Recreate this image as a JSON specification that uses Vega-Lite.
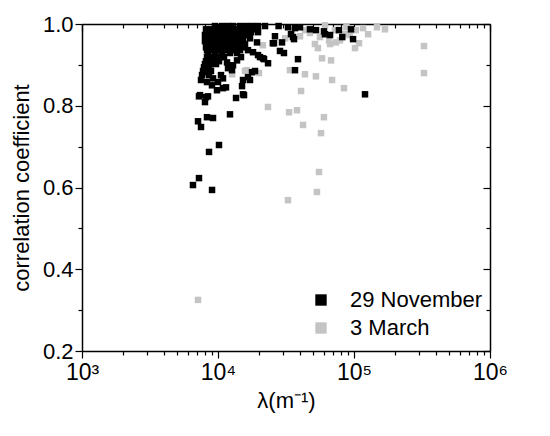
{
  "$schema": "https://vega.github.io/schema/vega-lite/v6.json",
  "width": 408,
  "height": 327,
  "autosize": {"type": "none"},
  "padding": {"left": 82, "top": 24, "right": 60, "bottom": 85},
  "background": "white",
  "config": {"view": {"stroke": null}, "font": "Liberation Sans"},
  "data": {"values": [
    {"s":"3 March","x":7130,"y":0.325},{"s":"3 March","x":55300,"y":0.638},{"s":"3 March","x":53400,"y":0.589},{"s":"3 March","x":32700,"y":0.569},
    {"s":"3 March","x":23300,"y":0.797},{"s":"3 March","x":33300,"y":0.784},{"s":"3 March","x":38100,"y":0.789},{"s":"3 March","x":42200,"y":0.753},
    {"s":"3 March","x":57200,"y":0.733},{"s":"3 March","x":60100,"y":0.772},{"s":"3 March","x":40800,"y":0.836},{"s":"3 March","x":84400,"y":0.843},
    {"s":"3 March","x":69000,"y":0.863},{"s":"3 March","x":52500,"y":0.872},{"s":"3 March","x":43600,"y":0.877},{"s":"3 March","x":33800,"y":0.887},
    {"s":"3 March","x":15800,"y":0.885},{"s":"3 March","x":20000,"y":0.880},{"s":"3 March","x":12700,"y":0.877},{"s":"3 March","x":58200,"y":0.916},
    {"s":"3 March","x":67800,"y":0.911},{"s":"3 March","x":51600,"y":0.951},{"s":"3 March","x":73800,"y":0.955},{"s":"3 March","x":101700,"y":0.941},
    {"s":"3 March","x":108900,"y":0.953},{"s":"3 March","x":21400,"y":0.948},{"s":"3 March","x":116500,"y":0.990},{"s":"3 March","x":147600,"y":0.992},
    {"s":"3 March","x":169000,"y":0.987},{"s":"3 March","x":327000,"y":0.946},{"s":"3 March","x":327000,"y":0.880},{"s":"3 March","x":61200,"y":0.997},
    {"s":"3 March","x":88000,"y":0.992},{"s":"3 March","x":72500,"y":0.985},{"s":"3 March","x":86000,"y":0.975},{"s":"3 March","x":56200,"y":0.968},
    {"s":"3 March","x":65500,"y":0.960},{"s":"3 March","x":47500,"y":0.978},{"s":"3 March","x":40100,"y":0.970},{"s":"3 March","x":43600,"y":0.985},
    {"s":"3 March","x":93000,"y":0.973},{"s":"3 March","x":79000,"y":0.960},{"s":"3 March","x":35000,"y":0.985},{"s":"3 March","x":31200,"y":0.965},
    {"s":"3 March","x":103000,"y":0.985},{"s":"3 March","x":127000,"y":0.975},{"s":"3 March","x":66700,"y":0.951},{"s":"3 March","x":54300,"y":0.941},
    {"s":"3 March","x":16300,"y":0.887},

    {"s":"29 November","x":9500,"y":0.995},{"s":"29 November","x":10700,"y":0.995},{"s":"29 November","x":11850,"y":0.995},{"s":"29 November","x":12890,"y":0.995},
    {"s":"29 November","x":14520,"y":0.995},{"s":"29 November","x":16070,"y":0.995},{"s":"29 November","x":17790,"y":0.995},{"s":"29 November","x":19690,"y":0.995},{"s":"29 November","x":22170,"y":0.995},
    {"s":"29 November","x":8160,"y":0.987},{"s":"29 November","x":8880,"y":0.987},{"s":"29 November","x":10000,"y":0.987},{"s":"29 November","x":11070,"y":0.987},
    {"s":"29 November","x":12250,"y":0.987},{"s":"29 November","x":13570,"y":0.987},{"s":"29 November","x":15020,"y":0.987},{"s":"29 November","x":16910,"y":0.987},{"s":"29 November","x":18710,"y":0.987},
    {"s":"29 November","x":8300,"y":0.980},{"s":"29 November","x":9190,"y":0.980},{"s":"29 November","x":10170,"y":0.980},{"s":"29 November","x":11450,"y":0.980},
    {"s":"29 November","x":12680,"y":0.980},{"s":"29 November","x":14030,"y":0.980},{"s":"29 November","x":15800,"y":0.980},{"s":"29 November","x":17490,"y":0.980},{"s":"29 November","x":19690,"y":0.980},
    {"s":"29 November","x":8020,"y":0.973},{"s":"29 November","x":8730,"y":0.973},{"s":"29 November","x":9670,"y":0.973},{"s":"29 November","x":10700,"y":0.973},
    {"s":"29 November","x":12050,"y":0.973},{"s":"29 November","x":13340,"y":0.973},{"s":"29 November","x":14760,"y":0.973},{"s":"29 November","x":16340,"y":0.973},
    {"s":"29 November","x":8160,"y":0.965},{"s":"29 November","x":9030,"y":0.965},{"s":"29 November","x":10000,"y":0.965},{"s":"29 November","x":11260,"y":0.965},
    {"s":"29 November","x":12460,"y":0.965},{"s":"29 November","x":13800,"y":0.965},{"s":"29 November","x":15270,"y":0.965},{"s":"29 November","x":17190,"y":0.965},
    {"s":"29 November","x":8020,"y":0.958},{"s":"29 November","x":8880,"y":0.958},{"s":"29 November","x":9830,"y":0.958},{"s":"29 November","x":10880,"y":0.958},
    {"s":"29 November","x":12050,"y":0.958},{"s":"29 November","x":13570,"y":0.958},{"s":"29 November","x":15020,"y":0.958},
    {"s":"29 November","x":8300,"y":0.951},{"s":"29 November","x":9190,"y":0.951},{"s":"29 November","x":10170,"y":0.951},{"s":"29 November","x":11450,"y":0.951},
    {"s":"29 November","x":12680,"y":0.951},{"s":"29 November","x":14030,"y":0.951},{"s":"29 November","x":15800,"y":0.951},
    {"s":"29 November","x":8160,"y":0.943},{"s":"29 November","x":9030,"y":0.943},{"s":"29 November","x":10000,"y":0.943},{"s":"29 November","x":11070,"y":0.943},
    {"s":"29 November","x":12250,"y":0.943},{"s":"29 November","x":13570,"y":0.943},{"s":"29 November","x":15530,"y":0.943},
    {"s":"29 November","x":8300,"y":0.936},{"s":"29 November","x":9340,"y":0.936},{"s":"29 November","x":10520,"y":0.936},{"s":"29 November","x":11650,"y":0.936},
    {"s":"29 November","x":13110,"y":0.936},{"s":"29 November","x":14520,"y":0.936},
    {"s":"29 November","x":8440,"y":0.929},{"s":"29 November","x":9500,"y":0.929},{"s":"29 November","x":10700,"y":0.929},{"s":"29 November","x":12250,"y":0.929},{"s":"29 November","x":13800,"y":0.929},
    {"s":"29 November","x":8300,"y":0.919},{"s":"29 November","x":9190,"y":0.919},{"s":"29 November","x":10340,"y":0.919},
    {"s":"29 November","x":8160,"y":0.909},{"s":"29 November","x":9030,"y":0.909},
    {"s":"29 November","x":8020,"y":0.902},{"s":"29 November","x":8730,"y":0.902},{"s":"29 November","x":9670,"y":0.902},
    {"s":"29 November","x":7890,"y":0.894},{"s":"29 November","x":8590,"y":0.894},
    {"s":"29 November","x":7760,"y":0.885},{"s":"29 November","x":8880,"y":0.885},
    {"s":"29 November","x":7630,"y":0.875},{"s":"29 November","x":8590,"y":0.875},
    {"s":"29 November","x":16340,"y":0.985},{"s":"29 November","x":19360,"y":0.955},{"s":"29 November","x":16620,"y":0.936},{"s":"29 November","x":18090,"y":0.931},
    {"s":"29 November","x":19690,"y":0.924},{"s":"29 November","x":21430,"y":0.916},{"s":"29 November","x":23330,"y":0.904},{"s":"29 November","x":25300,"y":0.953},
    {"s":"29 November","x":27900,"y":0.995},{"s":"29 November","x":32700,"y":0.992},{"s":"29 November","x":36830,"y":0.990},{"s":"29 November","x":35600,"y":0.968},
    {"s":"29 November","x":17790,"y":0.882},{"s":"29 November","x":16620,"y":0.870},
    {"s":"29 November","x":8020,"y":0.892},{"s":"29 November","x":8440,"y":0.882},{"s":"29 November","x":7500,"y":0.863},{"s":"29 November","x":8300,"y":0.858},
    {"s":"29 November","x":9190,"y":0.867},{"s":"29 November","x":9030,"y":0.850},{"s":"29 November","x":9830,"y":0.838},{"s":"29 November","x":10880,"y":0.843},
    {"s":"29 November","x":11450,"y":0.845},{"s":"29 November","x":7375,"y":0.826},{"s":"29 November","x":8160,"y":0.821},{"s":"29 November","x":8020,"y":0.809},
    {"s":"29 November","x":15020,"y":0.848},{"s":"29 November","x":15270,"y":0.828},{"s":"29 November","x":13570,"y":0.819},{"s":"29 November","x":12250,"y":0.779},
    {"s":"29 November","x":7130,"y":0.762},{"s":"29 November","x":8300,"y":0.772},{"s":"29 November","x":9190,"y":0.770},{"s":"29 November","x":11850,"y":0.892},
    {"s":"29 November","x":12680,"y":0.887},{"s":"29 November","x":15270,"y":0.863},{"s":"29 November","x":10880,"y":0.867},
    {"s":"29 November","x":6546,"y":0.606},{"s":"29 November","x":7247,"y":0.623},{"s":"29 November","x":9040,"y":0.594},{"s":"29 November","x":8590,"y":0.687},
    {"s":"29 November","x":10170,"y":0.704},{"s":"29 November","x":7500,"y":0.748},{"s":"29 November","x":7247,"y":0.823},{"s":"29 November","x":8440,"y":0.823},
    {"s":"29 November","x":15530,"y":0.826},{"s":"29 November","x":17190,"y":0.863},{"s":"29 November","x":18710,"y":0.885},{"s":"29 November","x":120500,"y":0.828},
    {"s":"29 November","x":36830,"y":0.887},{"s":"29 November","x":38740,"y":0.914},{"s":"29 November","x":28560,"y":0.934},{"s":"29 November","x":30550,"y":0.929},
    {"s":"29 November","x":21800,"y":0.914},{"s":"29 November","x":20370,"y":0.919},{"s":"29 November","x":25800,"y":0.953},{"s":"29 November","x":29560,"y":0.955},
    {"s":"29 November","x":26240,"y":0.970},{"s":"29 November","x":34410,"y":0.975},{"s":"29 November","x":36220,"y":0.963},{"s":"29 November","x":40080,"y":0.992},
    {"s":"29 November","x":47460,"y":0.987},{"s":"29 November","x":52550,"y":0.985},{"s":"29 November","x":60140,"y":0.982},{"s":"29 November","x":66670,"y":0.973},
    {"s":"29 November","x":82000,"y":0.968},{"s":"29 November","x":77500,"y":0.985},{"s":"29 November","x":95030,"y":0.987},{"s":"29 November","x":98390,"y":0.963},
    {"s":"29 November","x":61180,"y":0.975},{"s":"29 November","x":10520,"y":0.875},{"s":"29 November","x":10170,"y":0.909},{"s":"29 November","x":11070,"y":0.919},
    {"s":"29 November","x":10000,"y":0.858},{"s":"29 November","x":11650,"y":0.906},{"s":"29 November","x":10700,"y":0.924},{"s":"29 November","x":9830,"y":0.914},
    {"s":"29 November","x":12890,"y":0.899},{"s":"29 November","x":13800,"y":0.911},{"s":"29 November","x":14760,"y":0.919}
  ]},
  "layer": [
    {
      "mark": {"type": "point", "shape": "square", "filled": true, "size": 42, "opacity": 1},
      "encoding": {
        "x": {"field": "x", "type": "quantitative",
          "scale": {"type": "log", "domain": [1000, 1000000]},
          "axis": {"orient": "bottom",
            "values": [1000,2000,3000,4000,5000,6000,7000,8000,9000,10000,20000,30000,40000,50000,60000,70000,80000,90000,100000,200000,300000,400000,500000,600000,700000,800000,900000,1000000],
            "labelExpr": "datum.value==1000?'10³':datum.value==10000?'10⁴':datum.value==100000?'10⁵':datum.value==1000000?'10⁶':''",
            "tickSize": {"condition": {"test": "datum.value==1000||datum.value==10000||datum.value==100000||datum.value==1000000", "value": 7}, "value": 4},
            "grid": false, "domainColor": "#000000", "domainWidth": 1.5, "tickColor": "#000000", "tickWidth": 1.2,
            "labelFontSize": 23, "labelColor": "#000000", "labelPadding": 3, "labelOverlap": false, "labelFlush": false,
            "title": "λ(m⁻¹)", "titleFontSize": 22, "titleFontWeight": "normal", "titleColor": "#000000", "titlePadding": 6}},
        "y": {"field": "y", "type": "quantitative",
          "scale": {"domain": [0.2, 1.0], "nice": false, "zero": false},
          "axis": {"orient": "left",
            "values": [0.2,0.3,0.4,0.5,0.6,0.7,0.8,0.9,1.0],
            "labelExpr": "round(datum.value*10)%2==0 ? format(datum.value,'.1f') : ''",
            "tickSize": {"condition": {"test": "round(datum.value*10)%2==0", "value": 7}, "value": 4},
            "grid": false, "domainColor": "#000000", "domainWidth": 1.5, "tickColor": "#000000", "tickWidth": 1.2,
            "labelFontSize": 22, "labelColor": "#000000", "labelPadding": 2, "labelOverlap": false, "labelFlush": false,
            "title": "correlation coefficient", "titleFontSize": 22, "titleFontWeight": "normal", "titleColor": "#000000", "titlePadding": 9}},
        "color": {"field": "s", "type": "nominal",
          "scale": {"domain": ["29 November", "3 March"], "range": ["#000000", "#c4c4c4"]},
          "legend": {"orient": "none", "legendX": 228, "legendY": 265, "title": null,
            "symbolType": "square", "symbolSize": 130, "symbolStrokeWidth": 0,
            "labelFontSize": 22, "labelColor": "#000000", "labelOffset": 18, "rowPadding": 6, "padding": 0}}
      }
    },
    {
      "mark": {"type": "point", "opacity": 0},
      "encoding": {
        "x": {"field": "x", "type": "quantitative",
          "axis": {"orient": "top", "labels": false, "title": null, "grid": false,
            "values": [1000,2000,3000,4000,5000,6000,7000,8000,9000,10000,20000,30000,40000,50000,60000,70000,80000,90000,100000,200000,300000,400000,500000,600000,700000,800000,900000,1000000],
            "tickSize": {"condition": {"test": "datum.value==1000||datum.value==10000||datum.value==100000||datum.value==1000000", "value": -7}, "value": -4},
            "domainColor": "#000000", "domainWidth": 1.5, "tickColor": "#000000", "tickWidth": 1.2}},
        "y": {"field": "y", "type": "quantitative",
          "axis": {"orient": "right", "labels": false, "title": null, "grid": false,
            "values": [0.2,0.3,0.4,0.5,0.6,0.7,0.8,0.9,1.0],
            "tickSize": {"condition": {"test": "round(datum.value*10)%2==0", "value": -7}, "value": -4},
            "domainColor": "#000000", "domainWidth": 1.5, "tickColor": "#000000", "tickWidth": 1.2}}
      }
    }
  ],
  "resolve": {"axis": {"x": "independent", "y": "independent"}}
}
